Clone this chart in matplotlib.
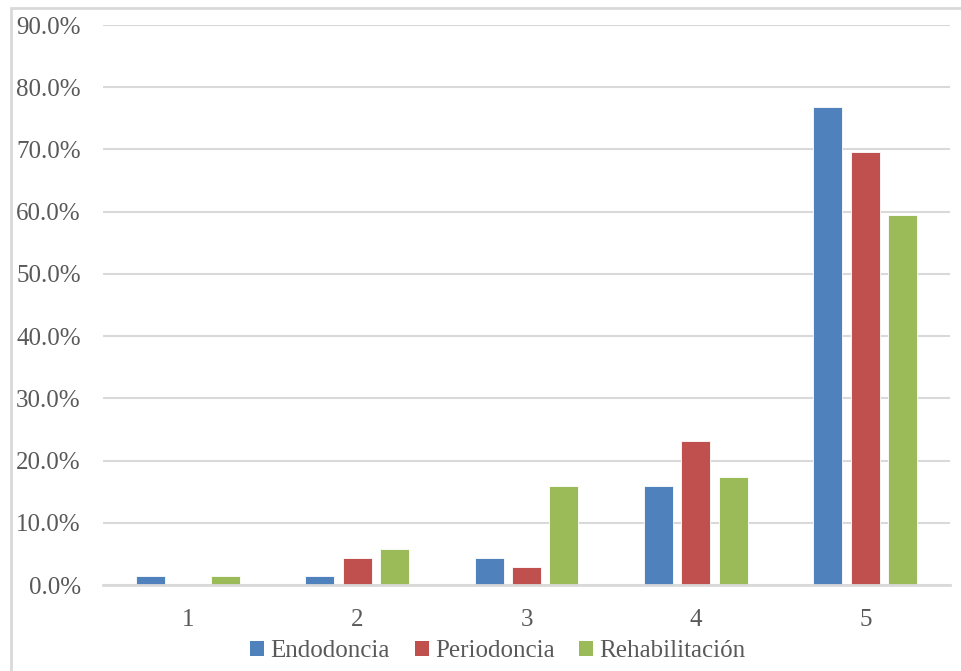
import matplotlib
matplotlib.use("Agg")
import matplotlib.pyplot as plt
import numpy as np
from matplotlib.patches import Rectangle, Patch
from matplotlib.ticker import FuncFormatter, MultipleLocator

categories = ["1", "2", "3", "4", "5"]
endodoncia = [1.4, 1.4, 4.3, 15.9, 76.8]
periodoncia = [0.0, 4.3, 2.9, 23.2, 69.6]
rehabilitacion = [1.4, 5.8, 15.9, 17.4, 59.4]
series_names = ["Endodoncia", "Periodoncia", "Rehabilitación"]
colors = ["#4F81BD", "#C0504D", "#9BBB59"]

plt.rcParams["font.family"] = ["Liberation Serif", "DejaVu Serif"]
text_color = "#595959"
grid_color = "#D9D9D9"

fig = plt.figure(figsize=(9.62, 6.71), dpi=100)
ax = fig.add_axes([103 / 962, 86 / 671, (950 - 103) / 962, (585 - 25) / 671])

x = np.arange(1, len(categories) + 1)
width = 0.171
step = 0.221
for i, (vals, name, col) in enumerate(zip([endodoncia, periodoncia, rehabilitacion], series_names, colors)):
    ax.bar(x + (i - 1) * step, vals, width, color=col, edgecolor="white",
           linewidth=0.6, label=name, zorder=3)

ax.set_xlim(0.5, 5.5)
ax.set_ylim(0, 90)
ax.yaxis.set_major_locator(MultipleLocator(10))
ax.yaxis.set_major_formatter(FuncFormatter(lambda v, p: f"{v:.1f}%"))
ax.set_xticks(x)
ax.set_xticklabels(categories)
ax.grid(axis="y", color=grid_color, linewidth=1.5, zorder=0)
for side in ["top", "right", "left"]:
    ax.spines[side].set_visible(False)
ax.spines["bottom"].set_color(grid_color)
ax.spines["bottom"].set_linewidth(2)
ax.spines["bottom"].set_zorder(4)
ax.tick_params(axis="both", length=0, labelsize=18, colors=text_color)
ax.tick_params(axis="y", pad=16)
ax.tick_params(axis="x", pad=17)

handles = [Patch(facecolor=c, edgecolor="none") for c in colors]
fig.legend(handles, series_names, loc="center", bbox_to_anchor=(498 / 962, 1 - 651 / 671),
           ncol=3, frameon=False, fontsize=18, handlelength=0.55, handleheight=0.55,
           handletextpad=0.25, columnspacing=1.0, labelcolor=text_color)

# Chart frame
fig.patches.append(Rectangle((11 / 962, -0.05), 1.2, 1 - 8 / 671 + 0.05,
                             transform=fig.transFigure, fill=False,
                             edgecolor=grid_color, linewidth=2))

fig.savefig("out.png", dpi=100)
